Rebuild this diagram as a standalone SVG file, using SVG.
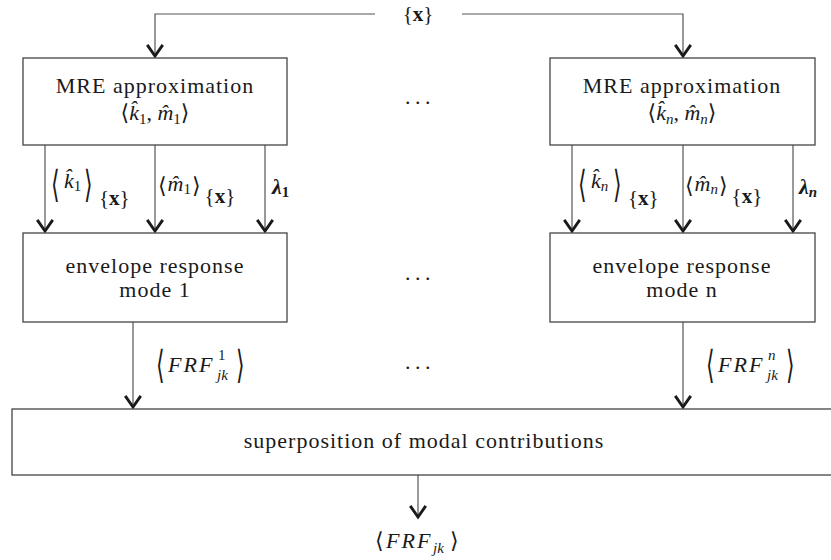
<svg xmlns="http://www.w3.org/2000/svg" width="831" height="560" viewBox="0 0 831 560">
<style>
text{font-family:'Liberation Serif',serif;font-size:22px;fill:#1a1a1a}
.box{fill:#fff;stroke:#444;stroke-width:1.3}
.ln{fill:none;stroke:#555;stroke-width:1.2}
.c{text-anchor:middle;letter-spacing:1px}
.i{font-style:italic}
.b{font-weight:bold}
.s{font-size:15px}
.x{font-size:21px}
.br{font-family:'DejaVu Serif',serif;font-size:22px}
</style>
<defs>
<marker id="ah" markerUnits="userSpaceOnUse" markerWidth="20" markerHeight="20" refX="0" refY="0" viewBox="-12 -9 14 18" orient="auto" overflow="visible">
<path d="M-10,-7 L0,0 L-10,7" fill="none" stroke="#1a1a1a" stroke-width="2.6" stroke-linejoin="miter"/>
</marker>
</defs>

<g id="connectors">
<path class="ln" d="M375,14 H155 V56" marker-end="url(#ah)"/>
<path class="ln" d="M462,14 H683 V56" marker-end="url(#ah)"/>
<path class="ln" d="M45,145 V231" marker-end="url(#ah)"/>
<path class="ln" d="M155,145 V231" marker-end="url(#ah)"/>
<path class="ln" d="M265,145 V231" marker-end="url(#ah)"/>
<path class="ln" d="M572,145 V231" marker-end="url(#ah)"/>
<path class="ln" d="M683,145 V231" marker-end="url(#ah)"/>
<path class="ln" d="M793,145 V231" marker-end="url(#ah)"/>
<path class="ln" d="M133,322 V407" marker-end="url(#ah)"/>
<path class="ln" d="M683,322 V407" marker-end="url(#ah)"/>
<path class="ln" d="M418,475 V517" marker-end="url(#ah)"/>
</g>

<g id="input">
<text class="x" x="418" y="21" text-anchor="middle">{<tspan class="b">x</tspan>}</text>
</g>

<g id="mre1">
<rect class="box" x="23" y="58" width="264" height="87"/>
<text class="c" x="155" y="93">MRE approximation</text>
<text x="155" y="120" text-anchor="middle"><tspan class="br" font-size="20">&#x27E8;</tspan><tspan class="i">k&#x302;</tspan><tspan class="s" dy="4">1</tspan><tspan dy="-4">, </tspan><tspan class="i">m&#x302;</tspan><tspan class="s" dy="4">1</tspan><tspan class="br" font-size="20" dy="-4">&#x27E9;</tspan></text>
</g>

<g id="mren">
<rect class="box" x="550" y="58" width="265" height="87"/>
<text class="c" x="682" y="93">MRE approximation</text>
<text x="682" y="120" text-anchor="middle"><tspan class="br" font-size="20">&#x27E8;</tspan><tspan class="i">k&#x302;</tspan><tspan class="s i" dy="4">n</tspan><tspan dy="-4">, </tspan><tspan class="i">m&#x302;</tspan><tspan class="s i" dy="4">n</tspan><tspan class="br" font-size="20" dy="-4">&#x27E9;</tspan></text>
</g>

<g id="labels1">
<text class="br" transform="translate(51,197) scale(1,1.7)">&#x27E8;</text>
<text x="64" y="188"><tspan class="i">k&#x302;</tspan><tspan class="s" dy="3">1</tspan></text>
<text class="br" transform="translate(84,197) scale(1,1.7)">&#x27E9;</text>
<text class="x" x="99" y="205">{<tspan class="b">x</tspan>}</text>
<text x="158" y="193"><tspan class="br" font-size="20">&#x27E8;</tspan><tspan class="i" dx="1" dy="-2">m&#x302;</tspan><tspan class="s" dy="3">1</tspan><tspan class="br" font-size="20" dx="1" dy="-1">&#x27E9;</tspan><tspan class="x" dx="4" dy="10">{<tspan class="b">x</tspan>}</tspan></text>
<text class="b i" x="272" y="194">&#x3BB;<tspan class="s" font-style="normal" dy="3">1</tspan></text>
</g>

<g id="labelsn">
<text class="br" transform="translate(578,197) scale(1,1.7)">&#x27E8;</text>
<text x="591" y="188"><tspan class="i">k&#x302;</tspan><tspan class="s i" dy="3">n</tspan></text>
<text class="br" transform="translate(613,197) scale(1,1.7)">&#x27E9;</text>
<text class="x" x="628" y="205">{<tspan class="b">x</tspan>}</text>
<text x="685" y="193"><tspan class="br" font-size="20">&#x27E8;</tspan><tspan class="i" dx="1" dy="-2">m&#x302;</tspan><tspan class="s i" dy="3">n</tspan><tspan class="br" font-size="20" dx="1" dy="-1">&#x27E9;</tspan><tspan class="x" dx="4" dy="10">{<tspan class="b">x</tspan>}</tspan></text>
<text class="b i" x="799" y="194">&#x3BB;<tspan class="s" dy="3">n</tspan></text>
</g>

<g id="env1">
<rect class="box" x="23" y="233" width="264" height="89"/>
<text class="c" x="155" y="273">envelope response</text>
<text class="c" x="155" y="297">mode 1</text>
</g>

<g id="envn">
<rect class="box" x="550" y="233" width="265" height="89"/>
<text class="c" x="682" y="273">envelope response</text>
<text class="c" x="682" y="297">mode n</text>
</g>

<g id="dots">
<text x="420" y="104" text-anchor="middle" letter-spacing="4.5">...</text>
<text x="420" y="280" text-anchor="middle" letter-spacing="4.5">...</text>
<text x="420" y="369" text-anchor="middle" letter-spacing="4.5">...</text>
</g>

<g id="frf1">
<text class="br" transform="translate(156,378) scale(1,1.75)">&#x27E8;</text>
<text x="168" y="372"><tspan class="i" letter-spacing="2">FRF</tspan></text>
<text class="s" x="218" y="360">1</text>
<text class="s i" x="217" y="380">jk</text>
<text class="br" transform="translate(236,378) scale(1,1.75)">&#x27E9;</text>
</g>

<g id="frfn">
<text class="br" transform="translate(706,378) scale(1,1.75)">&#x27E8;</text>
<text x="718" y="372"><tspan class="i" letter-spacing="2">FRF</tspan></text>
<text class="s i" x="768" y="360">n</text>
<text class="s i" x="767" y="380">jk</text>
<text class="br" transform="translate(786,378) scale(1,1.75)">&#x27E9;</text>
</g>

<g id="superposition">
<rect class="box" x="12" y="409" width="830" height="66"/>
<text class="c" x="424" y="448">superposition of modal contributions</text>
</g>

<g id="output">
<text y="548"><tspan x="375" class="br" font-size="24">&#x27E8;</tspan><tspan class="i" x="386" letter-spacing="2">FRF</tspan><tspan class="s i" x="433" dy="5">jk</tspan><tspan x="450" dy="-5" class="br" font-size="24">&#x27E9;</tspan></text>
</g>
</svg>
